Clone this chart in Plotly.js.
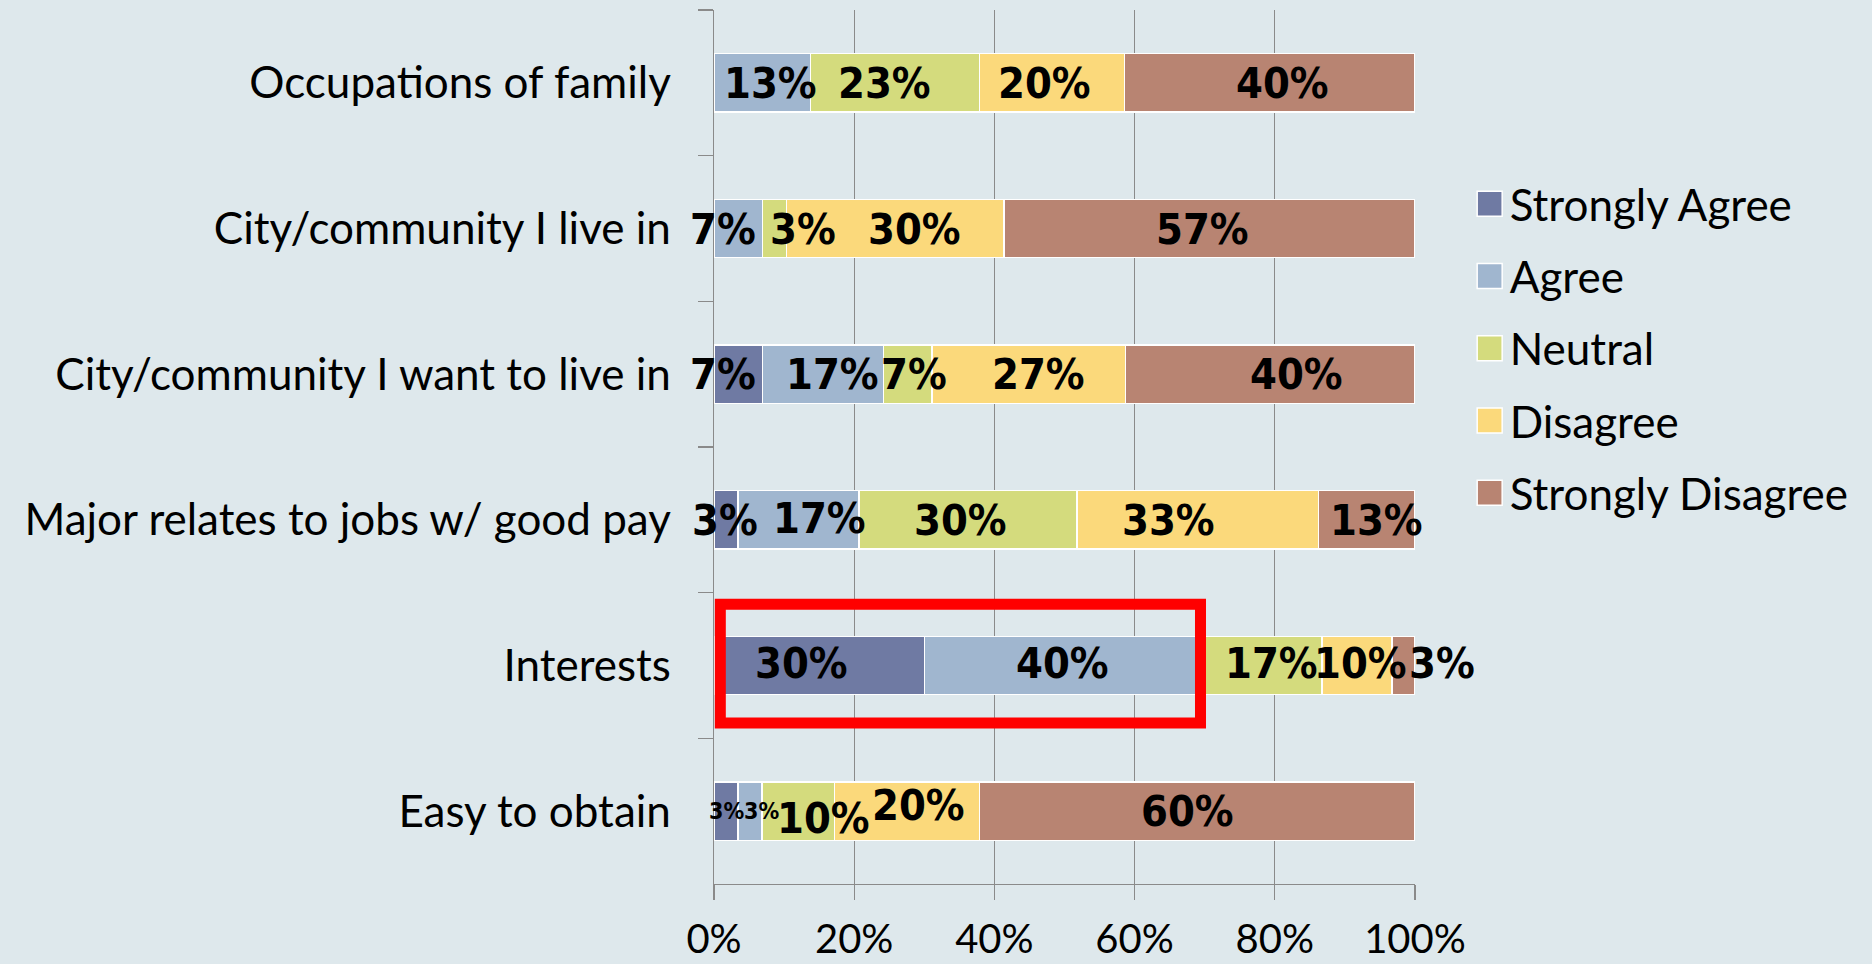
<!DOCTYPE html>
<html>
<head>
<meta charset="utf-8">
<script src="https://cdn.plot.ly/plotly-3.0.1.min.js"></script>
<style>
  html, body { margin: 0; padding: 0; background: #dee8ec; }
  #chart { width: 1872px; height: 964px; }
</style>
</head>
<body>
<div id="chart"></div>
<script>
// ---- data ----
const categories = [
  "Occupations of family",
  "City/community I live in",
  "City/community I want to live in",
  "Major relates to jobs w/ good pay",
  "Interests",
  "Easy to obtain"
];
const seriesNames = ["Strongly Agree", "Agree", "Neutral", "Disagree", "Strongly Disagree"];
const stronglyAgree    = [0,    0,    6.7,  3.3,  30,   3.3];
const agree            = [13.3, 6.7,  16.7, 16.7, 40,   3.3];
const neutral          = [23.3, 3.3,  6.7,  30,   16.7, 10];
const disagree         = [20,   30,   26.7, 33.3, 10,   20];
const stronglyDisagree = [40,   56.7, 40,   13.3, 3.3,  60];
const xTickValues = [0, 20, 40, 60, 80, 100];

// ---- styles ----
const colors = ["#6f7aa3", "#a0b6cf", "#d4db7d", "#fbd97b", "#b88472"];
const labelFont = "'DejaVu Sans Condensed', 'DejaVu Sans', sans-serif";
const textFont = "Lato, 'Open Sans', sans-serif";
const labelSize = 43;
const smallLabelSize = 23;
// label nudges in pixels [dx, dy] as placed in the reference (row -> series index)
const labelNudges = {
  "Occupations of family":             [[0,0],[8,0],[-11,0],[-8,0],[13,0]],
  "City/community I live in":          [[0,0],[-15,0],[28,0],[19,0],[-7,0]],
  "City/community I want to live in":  [[-15,0],[10,0],[6,0],[10,0],[26,0]],
  "Major relates to jobs w/ good pay": [[-1,0],[21,-2],[-7,0],[-29,0],[10,0]],
  "Interests":                         [[-18,-3],[-2,-3],[8,-3],[4,-3],[39,-3]],
  "Easy to obtain":                    [[1,0],[12,0],[25,7],[11,-6],[-10,0]]
};
const smallLabels = { "Easy to obtain": [0, 1] };

const allSeries = [stronglyAgree, agree, neutral, disagree, stronglyDisagree];

const traces = allSeries.map((vals, i) => ({
  type: "bar",
  orientation: "h",
  name: seriesNames[i],
  y: categories,
  x: vals,
  textposition: "none",
  marker: { color: colors[i], line: { color: "#ffffff", width: 1.5 } },
  legendgroup: "g" + i,
  hovertemplate: "%{y}<br>" + seriesNames[i] + "<extra></extra>"
}));

// data labels, centred on each (100%-normalised) segment
const annotations = [];
categories.forEach((cat, r) => {
  const rowVals = allSeries.map(s => s[r]);
  const total = rowVals.reduce((a, b) => a + b, 0);
  let cum = 0;
  rowVals.forEach((v, i) => {
    const start = cum / total * 100;
    cum += v;
    if (v <= 0) return;
    const mid = start + (v / total * 100) / 2;
    const nudge = (labelNudges[cat] || [])[i] || [0, 0];
    const small = (smallLabels[cat] || []).includes(i);
    annotations.push({
      xref: "x", yref: "y",
      x: mid, y: cat,
      text: Math.round(v) + "%",
      showarrow: false,
      xanchor: "center", yanchor: "middle",
      xshift: nudge[0], yshift: -nudge[1],
      font: {
        family: labelFont, weight: "bold", stretch: "condensed",
        size: small ? smallLabelSize : labelSize, color: "#000000"
      }
    });
  });
});

const layout = {
  width: 1872,
  height: 964,
  margin: { l: 714, r: 457, t: 10, b: 80, pad: 0 },
  paper_bgcolor: "#dee8ec",
  plot_bgcolor: "#dee8ec",
  barmode: "stack",
  barnorm: "percent",
  bargap: 0.6,
  showlegend: true,
  legend: {
    x: 1.078, xanchor: "left",
    y: 0.613, yanchor: "middle",
    traceorder: "grouped",
    tracegroupgap: 12,
    font: { family: textFont, size: 44, color: "#000000" },
    bgcolor: "rgba(0,0,0,0)"
  },
  xaxis: {
    range: [0, 100],
    tickvals: xTickValues,
    ticktext: xTickValues.map(v => v + "%"),
    showgrid: true,
    gridcolor: "#8a8a8a",
    gridwidth: 1.3,
    zeroline: false,
    showline: true,
    linecolor: "#8a8a8a",
    linewidth: 1.3,
    ticks: "outside",
    ticklen: 15,
    tickcolor: "#8a8a8a",
    tickwidth: 1.3,
    ticklabelstandoff: 5,
    tickfont: { family: textFont, size: 40, color: "#000000" },
    fixedrange: true
  },
  yaxis: {
    type: "category",
    autorange: "reversed",
    showgrid: false,
    zeroline: false,
    showline: true,
    linecolor: "#8a8a8a",
    linewidth: 1.3,
    ticks: "outside",
    tickson: "boundaries",
    ticklen: 15,
    tickcolor: "#8a8a8a",
    tickwidth: 1.3,
    ticklabelstandoff: 33,
    tickfont: { family: textFont, size: 44, color: "#000000" },
    fixedrange: true
  },
  annotations: annotations,
  shapes: [{
    type: "rect",
    xref: "x", yref: "y",
    x0: 0.9, x1: 69.4,
    y0: 3.58, y1: 4.395,
    line: { color: "#ff0000", width: 11 },
    fillcolor: "rgba(0,0,0,0)",
    layer: "above"
  }]
};

Plotly.newPlot("chart", traces, layout, { displayModeBar: false, staticPlot: true }).then(() => {
  // enlarge the legend colour squares to match the reference's swatches
  document.querySelectorAll("#chart .legend .legendpoints path").forEach(p => {
    p.setAttribute("d", "M12.5,12.5H-12.5V-12.5H12.5Z");
  });
});
</script>
</body>
</html>
